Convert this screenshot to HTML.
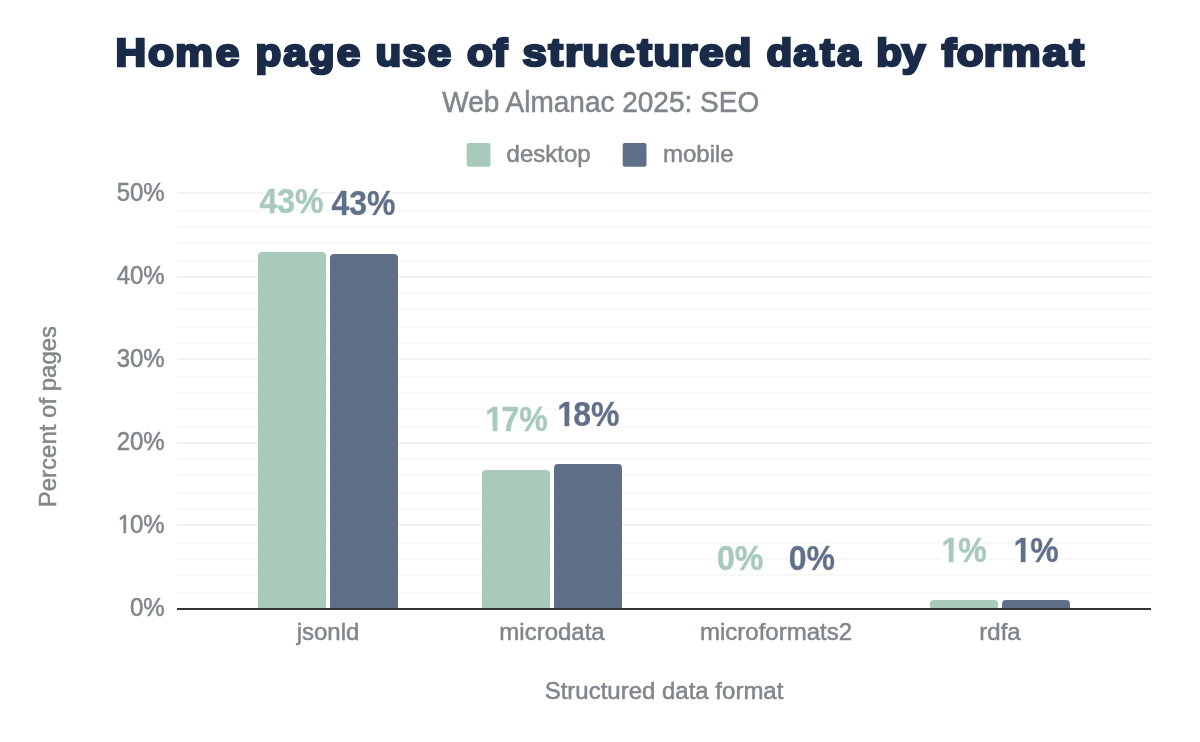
<!DOCTYPE html>
<html lang="en">
<head>
<meta charset="utf-8">
<title>Home page use of structured data by format</title>
<style>
html,body{margin:0;padding:0;background:#fff;}
body{width:1200px;height:742px;overflow:hidden;font-family:"Liberation Sans",Arial,sans-serif;}
svg{display:block;}
text{font-family:"Liberation Sans",Arial,sans-serif;}
.ax{font-size:24px;fill:#80868b;stroke:#80868b;stroke-width:0.5px;}
.dl{font-size:32px;font-weight:bold;stroke-width:0.45px;filter:url(#halo);}
.dl .d{stroke:#a8cabb;}
.dl .m{stroke:#5f6f8a;}
.d{fill:#a8cabb;}
.m{fill:#5f6f8a;}
</style>
</head>
<body>
<svg width="1200" height="742" viewBox="0 0 1200 742">
<rect width="1200" height="742" fill="#ffffff"/>
<defs>
<filter id="halo" x="-10%" y="-20%" width="120%" height="140%">
<feMorphology in="SourceAlpha" operator="dilate" radius="2" result="dil"/>
<feGaussianBlur in="dil" stdDeviation="0.6" result="blur"/>
<feFlood flood-color="#ffffff" result="white"/>
<feComposite in="white" in2="blur" operator="in" result="halo"/>
<feMerge><feMergeNode in="halo"/><feMergeNode in="halo"/><feMergeNode in="SourceGraphic"/></feMerge>
</filter>
</defs>
<!-- title -->
<g id="title" font-size="39.0" font-weight="bold" fill="#1a2b49" stroke="#1a2b49" stroke-width="2.6" stroke-linejoin="miter" stroke-miterlimit="2">
<text id="w_Home" transform="scale(1.0881 1)" x="106.16 135.91 161.12 198.26" y="66">Home</text>
<text id="w_page" transform="scale(1.0821 1)" x="236.07 261.79 285.38 311.10" y="66">page</text>
<text id="w_use" transform="scale(1.0800 1)" x="347.75 372.48 396.15" y="66">use</text>
<text id="w_of" transform="scale(1.0800 1)" x="432.31 456.64" y="66">of</text>
<text id="w_structured" transform="scale(1.1175 1)" x="467.62 490.85 505.65 521.21 546.15 570.39 584.85 609.06 625.69 648.50" y="66">structured</text>
<text id="w_data" transform="scale(1.0800 1)" x="709.84 734.59 759.52 774.91" y="66">data</text>
<text id="w_by" transform="scale(1.0800 1)" x="811.34 834.96" y="66">by</text>
<text id="w_format" transform="scale(1.1184 1)" x="842.02 855.49 879.68 895.75 932.05 956.27" y="66">format</text>
</g>
<text id="sub" transform="translate(600.7 112.2) scale(1 1.025)" text-anchor="middle" font-size="28" fill="#80868b" stroke="#80868b" stroke-width="0.5">Web Almanac 2025: SEO</text>
<!-- legend -->
<rect x="466.7" y="143" width="23.8" height="23.8" rx="2" class="d"/>
<text id="lg_d" class="ax" transform="translate(506.6 162) scale(1 1.03)">desktop</text>
<rect x="622.7" y="143" width="23.8" height="23.8" rx="2" class="m"/>
<text id="lg_m" class="ax" transform="translate(663 162) scale(1 1.03)">mobile</text>
<!-- gridlines -->
<g id="grid" fill="#f8f8f8"><rect x="177" y="210" width="974" height="2"/><rect x="177" y="226" width="974" height="2"/><rect x="177" y="242" width="974" height="2"/><rect x="177" y="260" width="974" height="2"/><rect x="177" y="292" width="974" height="2"/><rect x="177" y="308" width="974" height="2"/><rect x="177" y="326" width="974" height="2"/><rect x="177" y="342" width="974" height="2"/><rect x="177" y="376" width="974" height="2"/><rect x="177" y="392" width="974" height="2"/><rect x="177" y="408" width="974" height="2"/><rect x="177" y="426" width="974" height="2"/><rect x="177" y="458" width="974" height="2"/><rect x="177" y="474" width="974" height="2"/><rect x="177" y="492" width="974" height="2"/><rect x="177" y="508" width="974" height="2"/><rect x="177" y="542" width="974" height="2"/><rect x="177" y="558" width="974" height="2"/><rect x="177" y="574" width="974" height="2"/><rect x="177" y="592" width="974" height="2"/></g>
<g id="gridM" fill="#f1f1f1"><rect x="177" y="192" width="974" height="2"/><rect x="177" y="276" width="974" height="2"/><rect x="177" y="358" width="974" height="2"/><rect x="177" y="442" width="974" height="2"/><rect x="177" y="524" width="974" height="2"/></g>
<!-- y axis labels -->
<g class="ax" text-anchor="end">
<text id="y0" transform="translate(164.7 201.3) scale(1 1.050)">50%</text>
<text id="y1" transform="translate(164.7 284.3) scale(1 1.050)">40%</text>
<text id="y2" transform="translate(164.7 367.3) scale(1 1.050)">30%</text>
<text id="y3" transform="translate(164.7 450.3) scale(1 1.050)">20%</text>
<text id="y4" text-anchor="start" x="117.68 130.03" transform="translate(0 533.3) scale(1 1.050)">10%</text>
<text id="y5" transform="translate(164.7 616.3) scale(1 1.050)">0%</text>
</g>
<!-- bars -->
<g id="bars">
<path class="d" d="M258 608V256a4 4 0 0 1 4-4h60a4 4 0 0 1 4 4V608z"/>
<path class="m" d="M330 608V258a4 4 0 0 1 4-4h60a4 4 0 0 1 4 4V608z"/>
<path class="d" d="M482 608V474a4 4 0 0 1 4-4h60a4 4 0 0 1 4 4V608z"/>
<path class="m" d="M554 608V468a4 4 0 0 1 4-4h60a4 4 0 0 1 4 4V608z"/>
<path class="d" d="M930 608V604a4 4 0 0 1 4-4h60a4 4 0 0 1 4 4V608z"/>
<path class="m" d="M1002 608V604a4 4 0 0 1 4-4h60a4 4 0 0 1 4 4V608z"/>
</g>
<rect x="177" y="608" width="974" height="2" fill="#333333"/>
<!-- data labels -->
<g class="dl" text-anchor="middle">
<text id="dl0" class="d" transform="translate(291.5 213.2) scale(1 1.110)">43%</text>
<text id="dl1" class="m" transform="translate(363.4 215.3) scale(1 1.110)">43%</text>
<text id="dl2" class="d" text-anchor="start" x="485.37 501.47" transform="translate(0 431.2) scale(1 1.110)">17%</text>
<text id="dl3" class="m" text-anchor="start" x="557.17 573.27" transform="translate(0 425.6) scale(1 1.110)">18%</text>
<text id="dl4" class="d" transform="translate(740.0 569.6) scale(1 1.110)">0%</text>
<text id="dl5" class="m" transform="translate(811.8 569.6) scale(1 1.110)">0%</text>
<text id="dl6" class="d" text-anchor="start" x="941.47 958.27" transform="translate(0 562.3) scale(1 1.110)">1%</text>
<text id="dl7" class="m" text-anchor="start" x="1013.47 1030.27" transform="translate(0 562.3) scale(1 1.110)">1%</text>
</g>
<g id="covers" fill="#ffffff"><rect x="118.98" y="530.00" width="4.45" height="4.80"/><rect x="126.13" y="530.00" width="4.45" height="4.80"/><rect x="486.57" y="426.30" width="6.05" height="6.40"/><rect x="497.45" y="426.30" width="5.52" height="6.40"/><rect x="558.37" y="420.70" width="6.05" height="6.40"/><rect x="569.25" y="420.70" width="5.52" height="6.40"/><rect x="942.67" y="557.40" width="6.05" height="6.40"/><rect x="953.55" y="557.40" width="5.52" height="6.40"/><rect x="1014.67" y="557.40" width="6.05" height="6.40"/><rect x="1025.55" y="557.40" width="5.52" height="6.40"/></g>
<!-- x axis labels -->
<g class="ax" text-anchor="middle">
<text id="x0" transform="translate(328.0 640) scale(1 1.03)">jsonld</text>
<text id="x1" transform="translate(552.0 640) scale(1 1.03)">microdata</text>
<text id="x2" transform="translate(776.0 640) scale(1 1.03)">microformats2</text>
<text id="x3" transform="translate(1000.0 640) scale(1 1.03)">rdfa</text>
<text id="xt" transform="translate(664 699.4) scale(1 1.03)">Structured data format</text>
<text id="yt" transform="translate(56.4 416.6) rotate(-90) scale(1 1.03)">Percent of pages</text>
</g>
</svg>
</body>
</html>
